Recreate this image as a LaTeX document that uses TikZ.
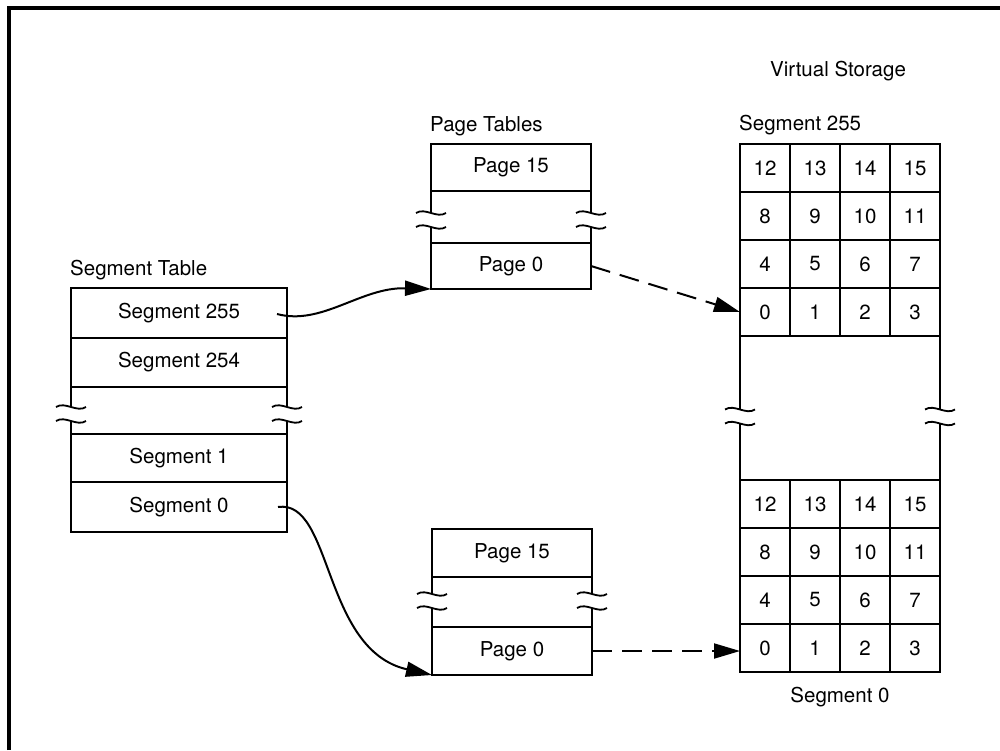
\documentclass[tikz,border=0pt]{standalone}
\usepackage{fontspec}
\setmainfont{TeX Gyre Heros}
\usetikzlibrary{arrows.meta,calc}
\newcommand\brkmarks[2]{%
  \draw[edge] (#1.north west) -- ($(#1.west)+(0,#2-7)$);
  \draw[edge] ($(#1.west)+(0,#2+7)$) -- (#1.south west);
  \draw[edge] (#1.north east) -- ($(#1.east)+(0,#2-7)$);
  \draw[edge] ($(#1.east)+(0,#2+7)$) -- (#1.south east);
  \draw[wave] ($(#1.west)+(-15,#2-7)$) .. controls +(9,-6) and +(-9,6) .. +(30,0);
  \draw[wave] ($(#1.west)+(-15,#2+7)$) .. controls +(9,-6) and +(-9,6) .. +(30,0);
  \draw[wave] ($(#1.east)+(-15,#2-7)$) .. controls +(9,-6) and +(-9,6) .. +(30,0);
  \draw[wave] ($(#1.east)+(-15,#2+7)$) .. controls +(9,-6) and +(-9,6) .. +(30,0);
}
\begin{document}
\begin{tikzpicture}[x=1pt,y=-1pt,
  txt/.style={font=\fontsize{20.5}{20.5}\selectfont},
  row/.style={draw,line width=2.8pt,inner sep=0pt,outer sep=0pt,txt},
  gaprow/.style={inner sep=0pt,outer sep=0pt},
  cell/.style={row,minimum width=50,minimum height=48},
  edge/.style={line width=2.8pt},
  wave/.style={line width=1.8pt},
  lbl/.style={inner sep=0pt,txt},
  ptr/.style={line width=2pt,-{Triangle[length=26pt,width=15pt]}},
  dptr/.style={ptr,dash pattern=on 20pt off 10pt}]
\useasboundingbox (0,0) rectangle (1000,750);
% frame
\draw[line width=4pt] (9,750) -- (9,8) -- (1000,8);

% segment table
\node[lbl,anchor=west] (stl) at (70,270) {Segment Table};
\node[row,minimum width=216,minimum height=50] (s255) at (179,313) {Segment 255};
\node[row,minimum width=216,minimum height=49] (s254) at (179,362.5) {Segment 254};
\node[gaprow,minimum width=216,minimum height=47] (sbrk) at (179,410.5) {};
\node[row,minimum width=216,minimum height=48] (s1) at (179,458) {Segment 1};
\node[row,minimum width=216,minimum height=50] (s0) at (179,507) {Segment 0};
\brkmarks{sbrk}{3.5}

% upper page table
\node[lbl,anchor=west] (ptl) at (430,126) {Page Tables};
\node[row,minimum width=160,minimum height=47] (pa15) at (511,167.5) {Page 15};
\node[gaprow,minimum width=160,minimum height=52] (pabrk) at (511,217) {};
\node[row,minimum width=160,minimum height=46] (pa0) at (511,266) {Page 0};
\brkmarks{pabrk}{3}

% lower page table
\node[row,minimum width=160,minimum height=48] (pb15) at (512,553) {Page 15};
\node[gaprow,minimum width=160,minimum height=50] (pbbrk) at (512,602) {};
\node[row,minimum width=160,minimum height=48] (pb0) at (512,651) {Page 0};
\brkmarks{pbbrk}{-1}

% virtual storage
\node[lbl] (vsl) at (838,71) {Virtual Storage};
\node[lbl,anchor=west] (s255l) at (739,125) {Segment 255};
\foreach \r in {0,...,3} {
  \foreach \c in {0,...,3} {
    \pgfmathtruncatemacro\n{4*(3-\r)+\c}
    \node[cell] (u\n) at (765+50*\c,168+48*\r) {\n};
    \node[cell] (l\n) at (765+50*\c,504+48*\r) {\n};
  }
}
\node[gaprow,minimum width=200,minimum height=144] (vbrk) at (840,408) {};
\brkmarks{vbrk}{8.5}
\node[lbl] (s0l) at (840,697) {Segment 0};

% pointers
\draw[ptr] ($(s255.east)+(-10,1)$) .. controls +(45,12) and +(-70,-2) .. (pa0.south west);
\draw[ptr] ($(s0.east)+(-9,0)$) .. controls +(55,-8) and +(-110,-25) .. (pb0.south west);
\draw[dptr] (pa0.east) -- (u0.west);
\draw[dptr] (pb0.east) -- (pb0.east -| l0.west);
\end{tikzpicture}
\end{document}
